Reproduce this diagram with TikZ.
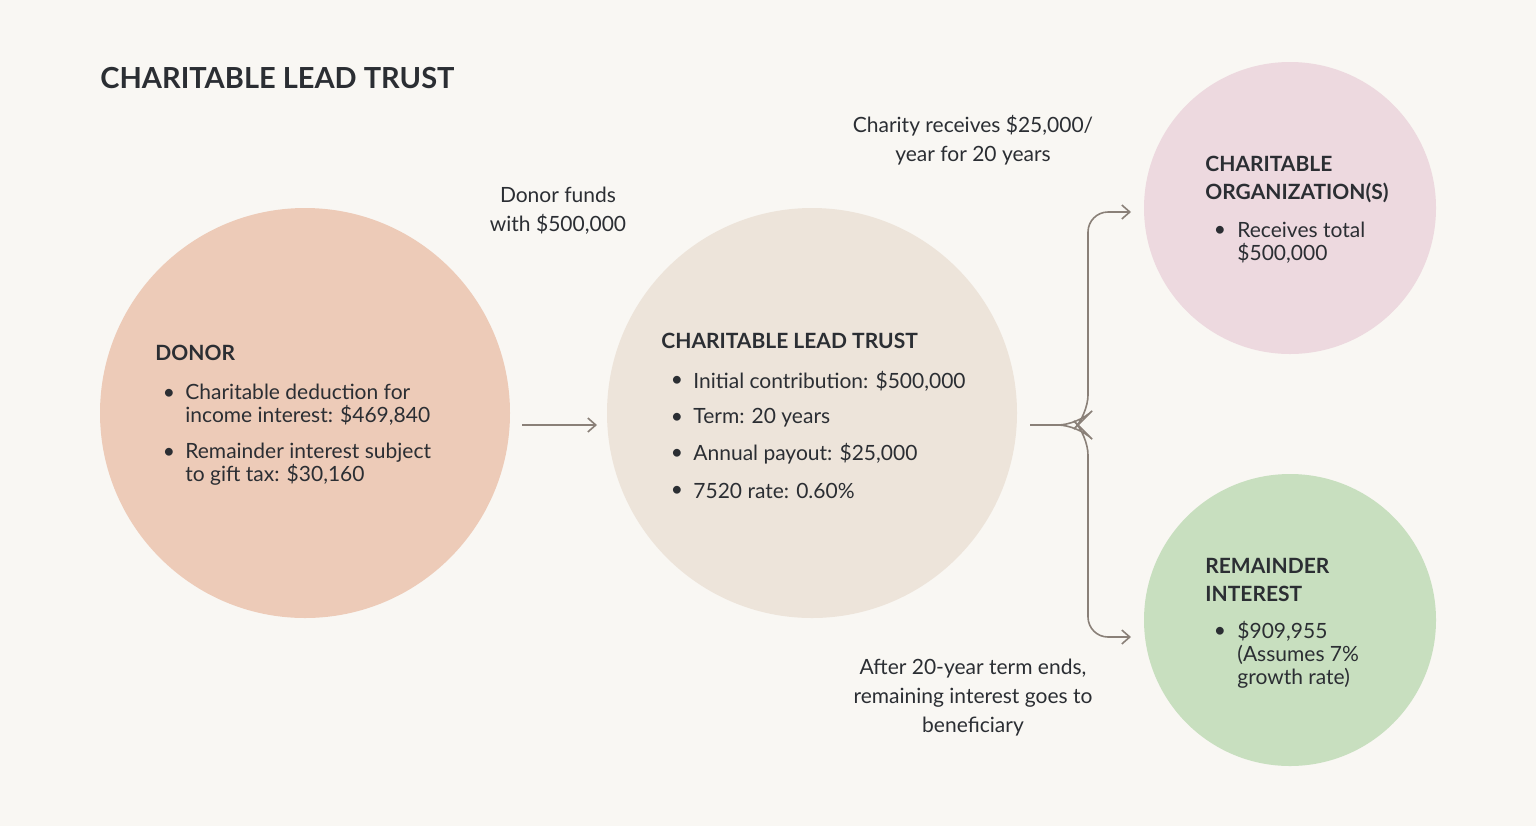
\documentclass[tikz,border=0pt]{standalone}
\usepackage{fontspec}
\setmainfont{Lato}
\usetikzlibrary{arrows.meta}
\definecolor{bg}{HTML}{F9F7F3}
\definecolor{ink}{HTML}{2B2E33}
\definecolor{cdonor}{HTML}{EDCBB8}
\definecolor{ctrust}{HTML}{EDE4DA}
\definecolor{corg}{HTML}{EDD9DF}
\definecolor{crem}{HTML}{C8DFBF}
\definecolor{line}{HTML}{8A8078}
\tikzset{
  txt/.style={anchor=west,inner sep=0pt,text=ink,font=\fontsize{10.5}{11.5}\selectfont,align=left},
  head/.style={txt,font=\fontsize{10.5}{14}\selectfont\bfseries},
  captxt/.style={inner sep=0pt,text=ink,font=\fontsize{10.5}{14.5}\selectfont,align=center},
  bul/.style={inner sep=0pt,text=ink,font=\fontsize{10.5}{11.5}\selectfont},
  conn/.style={draw=line,line width=0.8pt,-{Straight Barb[length=4pt,width=7pt]}},
}
\begin{document}
\begin{tikzpicture}[x=0.5pt,y=-0.5pt]
\fill[bg] (0,0) rectangle (1536,826);
\useasboundingbox (0,0) rectangle (1536,826);
\node[txt,font=\fontsize{14.5}{16}\selectfont\bfseries] (title) at (100,78) {CHARITABLE LEAD TRUST};
\fill[cdonor] (305,413) circle[radius=205] coordinate (donor);
\fill[ctrust] (812,413) circle[radius=205] coordinate (trust);
\fill[corg] (1290,208) circle[radius=146] coordinate (org);
\fill[crem] (1290,620) circle[radius=146] coordinate (rem);
% donor
\node[head] (dh) at (155,353) {DONOR};
\node[bul] (db1) at (169,394) {•};
\node[txt] (dt1) at (185,405) {Charitable deduction for\\income interest: \$469,840};
\node[bul] (db2) at (169,453) {•};
\node[txt] (dt2) at (185,464) {Remainder interest subject\\to gift tax: \$30,160};
% trust
\node[head] (th) at (661,341) {CHARITABLE LEAD TRUST};
\foreach \y/\t [count=\i] in {381/{Initial contribution: \$500,000},418/{Term: 20 years},454/{Annual payout: \$25,000},491/{7520 rate: 0.60\%}}{
  \node[bul] (tb\i) at (677,\y) {•};
  \node[txt] (tt\i) at (693,\y) {\t};
}
% org
\node[head] (oh) at (1205,179) {CHARITABLE\\ORGANIZATION(S)};
\node[bul] (ob) at (1220,231) {•};
\node[txt] (ot) at (1237,243) {Receives total\\\$500,000};
% remainder
\node[head] (rh) at (1205,580) {REMAINDER\\INTEREST};
\node[bul] (rb) at (1220,632) {•};
\node[txt] (rt) at (1237,655) {\$909,955\\(Assumes 7\%\\growth rate)};
% captions
\node[captxt] (c1) at (558,211) {Donor funds\\with \$500,000};
\node[captxt] (c2) at (973,140) {Charity receives \$25,000/\\year for 20 years};
\node[captxt] (c3) at (973,698) {After 20-year term ends,\\remaining interest goes to\\beneficiary};
% connectors
\coordinate (a1) at (522,425);
\coordinate (a2) at (597,425);
\draw[conn] (a1) -- (a2);
\coordinate (b0) at (1030,425);
\coordinate (bt) at (1131,212);
\coordinate (bb) at (1131,637);
\draw[conn,rounded corners=10pt] (b0) -- (1078,425) -- (1088,415) -- (1088,212) -- (bt);
\draw[conn,rounded corners=10pt] (b0) -- (1078,425) -- (1088,435) -- (1088,637) -- (bb);
\end{tikzpicture}
\end{document}
